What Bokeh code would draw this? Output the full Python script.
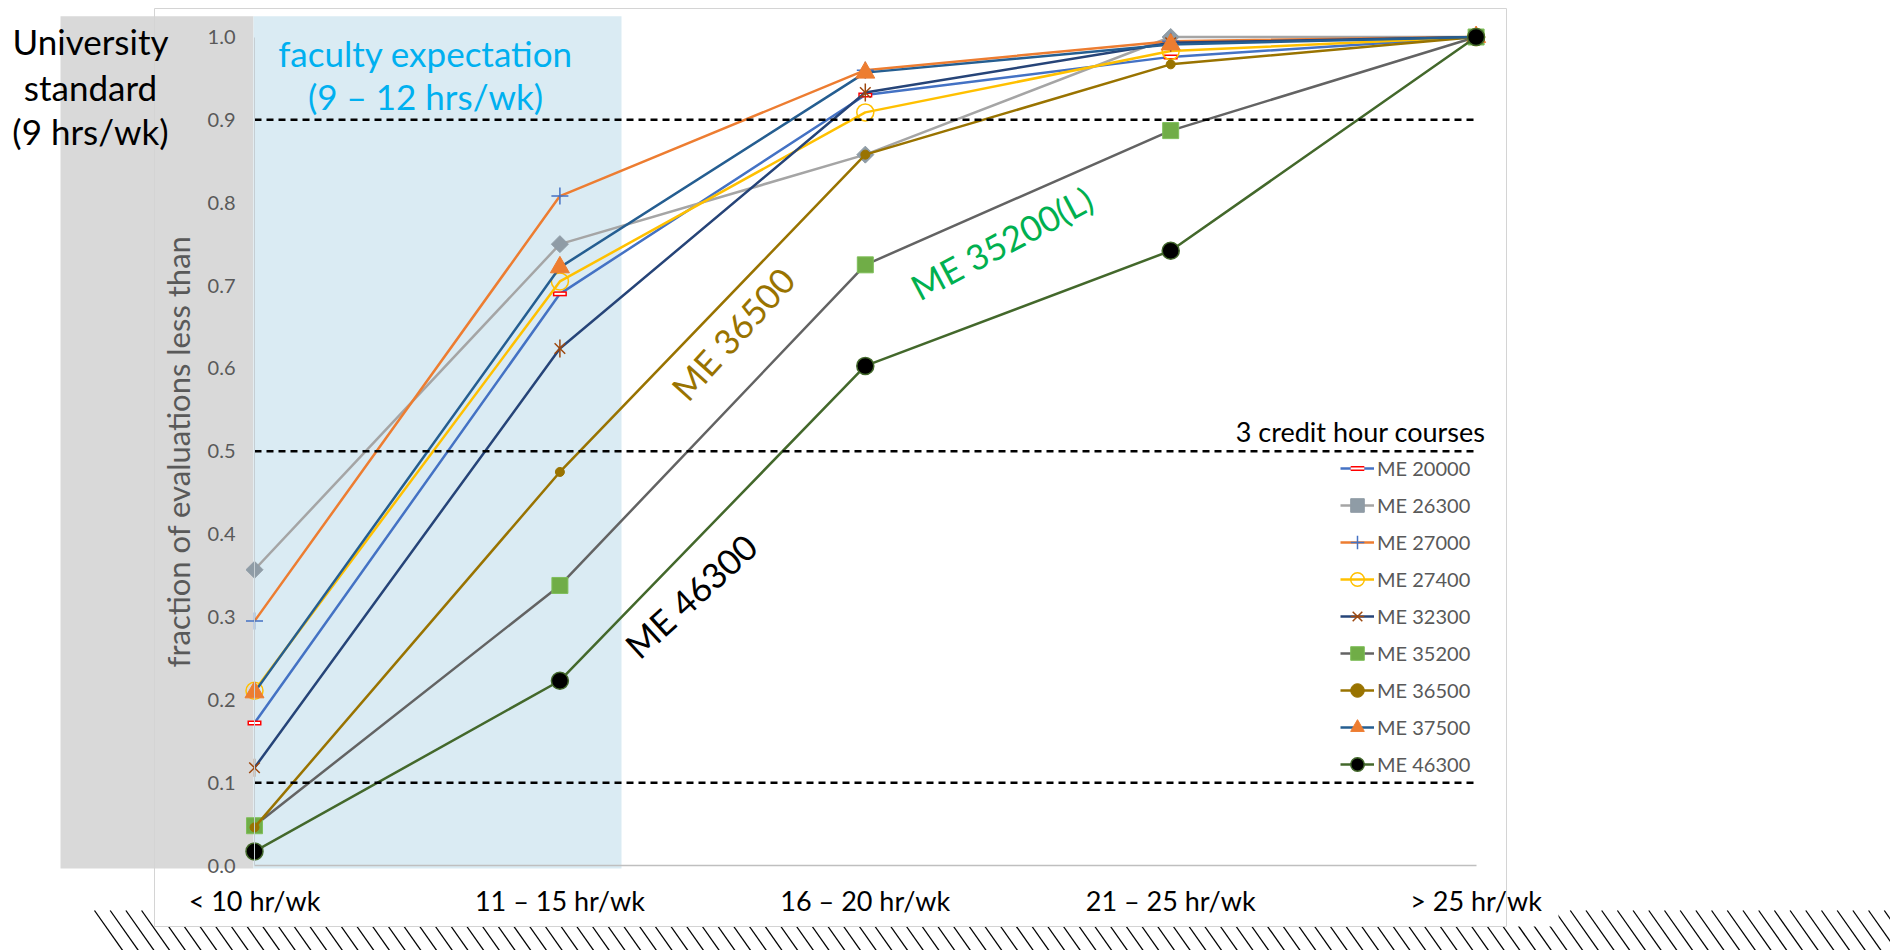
import numpy as np
from bokeh.plotting import figure
from bokeh.models import (Range1d, LinearAxis, FixedTicker, NumeralTickFormatter,
                          Label, Legend, LegendItem)
from bokeh.embed import file_html
from bokeh.resources import INLINE

# ---------------- data ----------------
categories = ["< 10 hr/wk", "11 – 15 hr/wk", "16 – 20 hr/wk", "21 – 25 hr/wk", "> 25 hr/wk"]
course_names = ["ME 20000", "ME 26300", "ME 27000", "ME 27400", "ME 32300",
                "ME 35200", "ME 36500", "ME 37500", "ME 46300"]
me20000 = [0.172, 0.690, 0.930, 0.976, 1.0]
me26300 = [0.357, 0.750, 0.858, 1.000, 1.0]
me27000 = [0.295, 0.808, 0.960, 0.995, 1.0]
me27400 = [0.211, 0.705, 0.909, 0.983, 1.0]
me32300 = [0.118, 0.624, 0.933, 0.993, 1.0]
me35200 = [0.048, 0.338, 0.725, 0.887, 1.0]
me36500 = [0.046, 0.475, 0.858, 0.967, 1.0]
me37500 = [0.209, 0.722, 0.957, 0.991, 1.0]
me46300 = [0.017, 0.223, 0.603, 0.742, 1.0]
series_values = [me20000, me26300, me27000, me27400, me32300,
                 me35200, me36500, me37500, me46300]
thresholds = [0.9, 0.5, 0.1]
y_ticks = [0.0, 0.1, 0.2, 0.3, 0.4, 0.5, 0.6, 0.7, 0.8, 0.9, 1.0]
legend_title = "3 credit hour courses"

# ---------------- layout helpers (screen px -> data) ----------------
W, H = 1890, 950
X0, DXP = 254.0, 305.4     # px of first category, px per category step
Y0, DYP = 865.0, 828.5     # px of 0.0, px per 1.0


def dx(px):
    return (np.asarray(px, dtype=float) - X0) / DXP


def dy(py):
    return (Y0 - np.asarray(py, dtype=float)) / DYP


FONT = "Lato"

p = figure(width=W, height=H, output_backend="svg", toolbar_location=None,
           x_range=Range1d(float(dx(0)), float(dx(W))),
           y_range=Range1d(float(dy(H)), float(dy(0))),
           x_axis_location=None, y_axis_location=None,
           min_border=0, outline_line_color=None, background_fill_color="white",
           border_fill_color="white")
p.xgrid.grid_line_color = None
p.ygrid.grid_line_color = None

# hatched ground strip
hx = np.arange(94.0, W + 20.0, 15.7)
p.segment(x0=dx(hx), y0=float(dy(910)), x1=dx(hx + 29.6), y1=float(dy(952)),
          line_color="black", line_width=1.3)
# white chart box covering the strip
p.quad(left=float(dx(154)), right=float(dx(1558)), top=float(dy(870)), bottom=float(dy(926)),
       fill_color="white", line_color=None)

# background bands
p.quad(left=float(dx(60)), right=float(dx(253)), top=float(dy(15.7)), bottom=float(dy(868)),
       fill_color="#d9d9d9", line_color=None)
p.quad(left=float(dx(253)), right=float(dx(621)), top=float(dy(15.7)), bottom=float(dy(868)),
       fill_color="#daebf3", line_color=None)
# chart frame
p.quad(left=float(dx(154)), right=float(dx(1506)), top=float(dy(8)), bottom=float(dy(926)),
       fill_color=None, line_color="#d4d4d4", line_width=1)

# axes
yaxis = LinearAxis(fixed_location=0, ticker=FixedTicker(ticks=y_ticks),
                   formatter=NumeralTickFormatter(format="0.0"), bounds=(0, 1),
                   axis_line_color="#c5ced3", axis_line_width=1,
                   major_tick_line_color=None, minor_tick_line_color=None,
                   major_tick_in=0, major_tick_out=0,
                   major_label_text_font=FONT, major_label_text_font_size="20px",
                   major_label_text_color="#595959", major_label_standoff=19,
                   axis_label="fraction of evaluations less than",
                   axis_label_text_font=FONT, axis_label_text_font_size="31px",
                   axis_label_text_font_style="normal", axis_label_text_color="#595959",
                   axis_label_standoff=8)
p.add_layout(yaxis, "left")

xs = list(range(len(categories)))
xaxis = LinearAxis(fixed_location=0, ticker=FixedTicker(ticks=xs),
                   major_label_overrides={i: c for i, c in enumerate(categories)},
                   bounds=(xs[0], xs[-1]),
                   axis_line_color="#bfbfbf", axis_line_width=1.5,
                   major_tick_line_color=None, minor_tick_line_color=None,
                   major_tick_in=0, major_tick_out=0,
                   major_label_text_font=FONT, major_label_text_font_size="27px",
                   major_label_text_color="black", major_label_standoff=18)
p.add_layout(xaxis, "below")

# series styles
styles = [
    dict(line="#4472c4", markers=[dict(marker="dash", size=14, line_color="#ff0000", line_width=5, fill_color=None),
                                  dict(marker="dash", size=11, line_color="#ffffff", line_width=2, fill_color=None)]),
    dict(line="#a5a5a5", markers=[dict(marker="square", size=12, angle=np.pi / 4, line_color="#8f9ca6", fill_color="#8f9ca6", line_width=1)]),
    dict(line="#ed7d31", markers=[dict(marker="cross", size=17, line_color="#4472c4", line_width=1.5, fill_color=None)]),
    dict(line="#ffc000", markers=[dict(marker="circle", size=17, line_color="#ffc000", line_width=1.5, fill_color=None)]),
    dict(line="#264478", markers=[dict(marker="x", size=15, line_color="#9e480e", line_width=1.5, fill_color=None),
                                  dict(marker="dash", size=18, angle=np.pi / 2, line_color="#9e480e", line_width=1.5, fill_color=None)]),
    dict(line="#636363", markers=[dict(marker="square", size=16, line_color="#7fbf5a", fill_color="#70ad47", line_width=1)]),
    dict(line="#997300", markers=[dict(marker="circle", size=9, line_color="#997300", fill_color="#997300", line_width=1)]),
    dict(line="#255e91", markers=[dict(marker="triangle", size=19, line_color="#ed7d31", fill_color="#ed7d31", line_width=1)]),
    dict(line="#43682b", markers=[dict(marker="circle", size=17, line_color="#43682b", fill_color="black", line_width=1.5)]),
]

items = []
for name, vals, st in zip(course_names, series_values, styles):
    rs = [p.line(x=xs, y=vals, line_color=st["line"], line_width=2.5)]
    for m in st["markers"]:
        kw = dict(m)
        rs.append(p.scatter(x=xs, y=vals, **kw))
    items.append(LegendItem(label=name, renderers=rs))

# threshold dashed lines
p.segment(x0=xs[0], x1=xs[-1], y0=thresholds, y1=thresholds,
          line_color="black", line_width=2.5, line_dash="7 5")

# legend: location is the bottom-left corner (screen px from bottom-left)
legend = Legend(items=items, location=(1340, 169), glyph_width=34, glyph_height=34,
                label_height=34, spacing=3, padding=0, margin=0, label_standoff=3,
                label_text_font=FONT, label_text_font_size="20px", label_text_color="#595959",
                border_line_color=None, background_fill_alpha=0)
p.add_layout(legend)


def add_label(text, x, y, size, color, angle_deg=0.0, align="center"):
    p.add_layout(Label(x=x, y=H - y, x_units="screen", y_units="screen", text=text,
                       text_align=align, text_baseline="middle", text_font=FONT,
                       text_font_size=size, text_color=color,
                       angle=np.deg2rad(angle_deg)))


add_label(legend_title, 1485, 431, "27px", "black", align="right")
add_label("University", 90, 40, "35px", "black")
add_label("standard", 90, 86, "35px", "black")
add_label("(9 hrs/wk)", 90, 130, "35px", "black")
add_label("faculty expectation", 425, 52, "35px", "#00b0f0")
add_label("(9 – 12 hrs/wk)", 425, 95, "35px", "#00b0f0")
add_label("ME 36500", 732, 333, "35px", "#997300", 48)
add_label("ME 35200(L)", 1001, 242, "35px", "#00b050", 28)
add_label("ME 46300", 690, 595, "35px", "black", 42.5)

open("out.html", "w").write(file_html(p, INLINE))
